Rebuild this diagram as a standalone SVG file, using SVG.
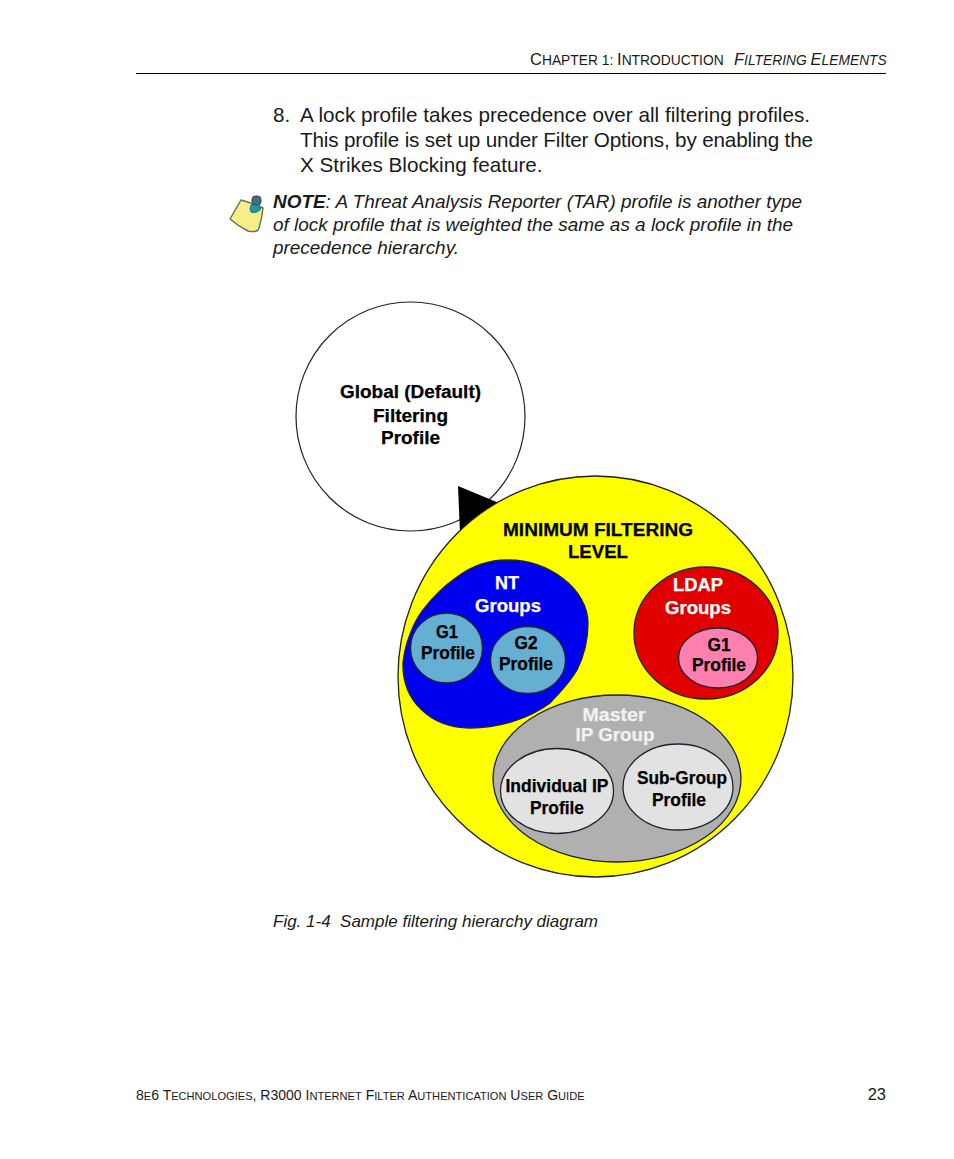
<svg xmlns="http://www.w3.org/2000/svg" width="954" height="1159" viewBox="0 0 954 1159">
<style>
text{font-family:"Liberation Sans",Arial,sans-serif;fill:#1a1a1a}
.h{font-size:16.5px}.hs{font-size:13.8px}
.b{font-size:20.7px}.n{font-size:18.95px;font-style:italic}
.f{font-size:11.1px}.F{font-size:14px}
.l{font-weight:bold;font-size:18px;text-anchor:middle;fill:#000;stroke:#000;stroke-width:.25px}
.w{fill:#fff;stroke:#fff}.m{fill:#f2f2f2;stroke:#f2f2f2}
.o{stroke:#1c2430;stroke-width:1.3}
</style>
<rect width="954" height="1159" fill="#fff"/>
<g id="header">
<text x="530" y="65" class="hs"><tspan class="h">C</tspan>HAPTER 1: <tspan class="h">I</tspan>NTRODUCTION</text>
<text x="734" y="65" class="hs" font-style="italic"><tspan class="h">F</tspan>ILTERING <tspan class="h">E</tspan>LEMENTS</text>
<rect x="136" y="73" width="750" height="1" fill="#000"/>
</g>
<g id="body">
<text x="273" y="122" class="b">8.</text>
<text x="300" y="122" class="b" textLength="510">A lock profile takes precedence over all filtering profiles.</text>
<text x="300" y="147" class="b" textLength="513">This profile is set up under Filter Options, by enabling the</text>
<text x="300" y="172" class="b">X Strikes Blocking feature.</text>
</g>
<g id="note-icon">
<path d="M230 219 L241 200 Q252 203 263 208 Q262 218 259 228 Q258 233 248 231 Q238 226 230 219Z" fill="#f6ee86" stroke="#6a6e58" stroke-width="1.400"/>
<path d="M251 205 Q249 209 251 212 Q256 214 261 209 Q260 204 256 204Z" fill="#1b9aa8" stroke="#14606a" stroke-width=".8"/>
<rect x="252" y="196" width="9" height="9" rx="3.500" fill="#4a6e78" stroke="#2e4a52" stroke-width="1"/>
</g>
<g id="note">
<text x="273" y="208" class="n"><tspan font-weight="bold">NOTE</tspan>: A Threat Analysis Reporter (TAR) profile is another type</text>
<text x="273" y="231" class="n">of lock profile that is weighted the same as a lock profile in the</text>
<text x="273" y="254" class="n">precedence hierarchy.</text>
</g>
<g id="global">
<circle cx="410.500" cy="416.500" r="114.500" fill="#fff" stroke="#222" stroke-width="1.200"/>
<text x="410.500" y="398" class="l" textLength="141" lengthAdjust="spacingAndGlyphs">Global (Default)</text>
<text x="410.500" y="422" class="l" textLength="75" lengthAdjust="spacingAndGlyphs">Filtering</text>
<text x="410.500" y="444" class="l" textLength="59" lengthAdjust="spacingAndGlyphs">Profile</text>
</g>
<g id="connectors">
<polygon points="458,486 499,503 460,533" fill="#000"/>
</g>
<g id="minimum">
<ellipse cx="595.500" cy="676.500" rx="197.500" ry="200.500" fill="#ffff00" stroke="#222" stroke-width="1.300"/>
<text x="598" y="536" class="l" textLength="190" lengthAdjust="spacingAndGlyphs">MINIMUM FILTERING</text>
<text x="598" y="558" class="l" textLength="60" lengthAdjust="spacingAndGlyphs">LEVEL</text>
</g>
<g id="nt">
<path class="o" fill="#0000f0" d="M403 663 C405 642 414 622 423 610 C432 598 444 586 457 577 C472 566 490 560 507 560 C550 560 588 590 588 623 C588 645 582 660 577 670 C568 685 560 692 550 703 C530 718 500 728 470 728 C430 728 402 700 403 663Z"/>
<text x="507" y="589" class="l w" textLength="24" lengthAdjust="spacingAndGlyphs">NT</text>
<text x="508" y="612" class="l w" textLength="66" lengthAdjust="spacingAndGlyphs">Groups</text>
</g>
<g id="nt-g1">
<ellipse class="o" cx="446.500" cy="648" rx="36" ry="35" fill="#64afd2"/>
<text x="447" y="638" class="l" textLength="22" lengthAdjust="spacingAndGlyphs">G1</text>
<text x="448" y="659" class="l" textLength="54" lengthAdjust="spacingAndGlyphs">Profile</text>
</g>
<g id="nt-g2">
<ellipse class="o" cx="528" cy="660" rx="37.500" ry="33.500" fill="#64afd2"/>
<text x="526" y="649" class="l" textLength="23" lengthAdjust="spacingAndGlyphs">G2</text>
<text x="526" y="670" class="l" textLength="54" lengthAdjust="spacingAndGlyphs">Profile</text>
</g>
<g id="ldap">
<ellipse class="o" cx="706" cy="633" rx="72" ry="66" fill="#e00000"/>
<text x="698" y="591" class="l w" textLength="50" lengthAdjust="spacingAndGlyphs">LDAP</text>
<text x="698" y="614" class="l w" textLength="66" lengthAdjust="spacingAndGlyphs">Groups</text>
</g>
<g id="ldap-g1">
<ellipse class="o" cx="718" cy="658" rx="39.500" ry="30" fill="#ff80b0"/>
<text x="719" y="651" class="l" textLength="23" lengthAdjust="spacingAndGlyphs">G1</text>
<text x="719" y="671" class="l" textLength="54" lengthAdjust="spacingAndGlyphs">Profile</text>
</g>
<g id="master">
<ellipse class="o" cx="617" cy="778.500" rx="124" ry="83.500" fill="#b0b0b0"/>
<text x="614" y="721" class="l m" textLength="63" lengthAdjust="spacingAndGlyphs">Master</text>
<text x="615" y="741" class="l m" textLength="79" lengthAdjust="spacingAndGlyphs">IP Group</text>
</g>
<g id="individual">
<ellipse class="o" cx="557" cy="791" rx="56.500" ry="42.500" fill="#e2e2e2"/>
<text x="557" y="792" class="l" textLength="103" lengthAdjust="spacingAndGlyphs">Individual IP</text>
<text x="557" y="814" class="l" textLength="54" lengthAdjust="spacingAndGlyphs">Profile</text>
</g>
<g id="subgroup">
<ellipse class="o" cx="678" cy="787" rx="55" ry="43" fill="#e2e2e2"/>
<text x="682" y="784" class="l" textLength="90" lengthAdjust="spacingAndGlyphs">Sub-Group</text>
<text x="679" y="806" class="l" textLength="54" lengthAdjust="spacingAndGlyphs">Profile</text>
</g>
<g id="caption">
<text x="273" y="927" font-size="17" font-style="italic" style="white-space:pre">Fig. 1-4  Sample filtering hierarchy diagram</text>
</g>
<g id="footer">
<text x="136" y="1100" class="F">8<tspan class="f">E</tspan>6 T<tspan class="f">ECHNOLOGIES</tspan>, R3000 I<tspan class="f">NTERNET</tspan> F<tspan class="f">ILTER</tspan> A<tspan class="f">UTHENTICATION</tspan> U<tspan class="f">SER</tspan> G<tspan class="f">UIDE</tspan></text>
<text x="886" y="1100" font-size="16.500" text-anchor="end">23</text>
</g>
</svg>
